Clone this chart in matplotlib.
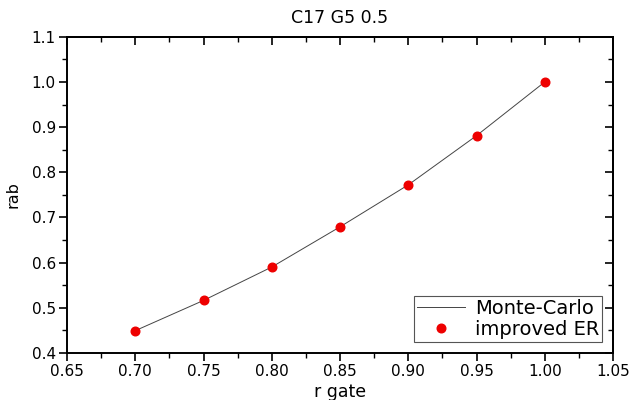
import matplotlib
matplotlib.use("Agg")
import matplotlib.pyplot as plt
from matplotlib.ticker import MultipleLocator

plt.rcParams['font.family'] = ['DejaVu Sans']

# data
r_gate = [0.70, 0.75, 0.80, 0.85, 0.90, 0.95, 1.00]
mc_rab = [0.449, 0.516, 0.590, 0.679, 0.772, 0.881, 1.000]
er_rab = [0.449, 0.516, 0.590, 0.679, 0.772, 0.881, 1.000]

fig = plt.figure(figsize=(6.32, 4.0), dpi=100)
ax = fig.add_axes([0.106, 0.118, 0.864, 0.790])

ax.plot(r_gate, mc_rab, color='#444444', lw=0.7, label='Monte-Carlo')
ax.plot(r_gate, er_rab, 'o', color='#ee0000', ms=6.2, mec='#ee0000', label='improved ER')

ax.set_xlim(0.65, 1.05)
ax.set_ylim(0.4, 1.1)
ax.xaxis.set_major_locator(MultipleLocator(0.05))
ax.xaxis.set_minor_locator(MultipleLocator(0.025))
ax.yaxis.set_major_locator(MultipleLocator(0.1))
ax.yaxis.set_minor_locator(MultipleLocator(0.05))
ax.xaxis.set_major_formatter(plt.FormatStrFormatter('%.2f'))
ax.yaxis.set_major_formatter(plt.FormatStrFormatter('%.1f'))

for s in ax.spines.values():
    s.set_linewidth(1.4)

ax.tick_params(which='major', direction='out', length=6, width=1.2, labelsize=11, pad=2)
ax.tick_params(which='minor', direction='out', length=3.5, width=1.0)

# inward ticks on top and right
ax2 = ax.secondary_xaxis('top')
ax2.xaxis.set_major_locator(MultipleLocator(0.05))
ax2.xaxis.set_minor_locator(MultipleLocator(0.025))
ax2.tick_params(which='major', direction='in', length=6, width=1.2, labeltop=False)
ax2.tick_params(which='minor', direction='in', length=3.5, width=1.0)
ax3 = ax.secondary_yaxis('right')
ax3.yaxis.set_major_locator(MultipleLocator(0.1))
ax3.yaxis.set_minor_locator(MultipleLocator(0.05))
ax3.tick_params(which='major', direction='in', length=6, width=1.2, labelright=False)
ax3.tick_params(which='minor', direction='in', length=3.5, width=1.0)
ax2.spines['top'].set_linewidth(1.4)
ax3.spines['right'].set_linewidth(1.4)

ax.set_xlabel('r gate', fontsize=12.5, labelpad=3)
ax.set_ylabel('rab', fontsize=11.5, labelpad=8)
ax.set_title('C17 G5 0.5', fontsize=12.5, pad=10)

leg = ax.legend(loc='lower right', fontsize=14, fancybox=False, edgecolor='#555555',
                framealpha=1, borderpad=0.15, handlelength=2.5, handletextpad=0.5,
                labelspacing=0.1, borderaxespad=0.55, numpoints=1)
leg.get_frame().set_linewidth(0.8)

fig.savefig('out.png', dpi=100)
